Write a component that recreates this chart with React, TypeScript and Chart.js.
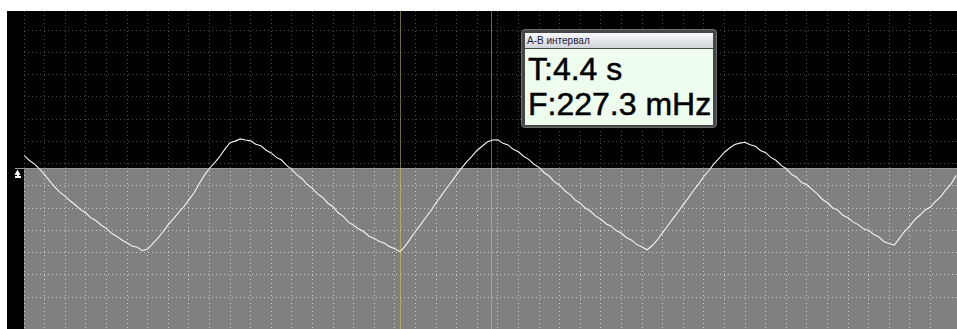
import React, { useEffect, useRef } from "react";
import { Chart, registerables } from "chart.js";

Chart.register(...registerables);

// ---- data (time in s, level in screen divisions) ----
const SAMPLE_STEP_S = 0.25;
const SIGNAL_DIV: number[] = [
  0.37, 0.15, -0.01, -0.24, -0.49, -0.79, -1.06, -1.29, -1.47, -1.68,
  -1.86, -2.07, -2.22, -2.44, -2.57, -2.77, -2.91, -3.13, -3.26, -3.43,
  -3.57, -3.70, -3.76, -3.91, -3.84, -3.60, -3.35, -3.06, -2.74, -2.48,
  -2.20, -1.95, -1.63, -1.32, -0.92, -0.53, -0.22, 0.03, 0.31, 0.65,
  0.94, 1.01, 1.11, 1.06, 1.02, 0.87, 0.80, 0.60, 0.48, 0.28,
  0.16, -0.08, -0.26, -0.51, -0.68, -0.94, -1.11, -1.36, -1.52, -1.78,
  -1.94, -2.21, -2.37, -2.63, -2.77, -2.94, -3.06, -3.26, -3.36, -3.50,
  -3.58, -3.73, -3.82, -3.96, -3.71, -3.38, -3.05, -2.75, -2.42, -2.12,
  -1.77, -1.45, -1.12, -0.82, -0.49, -0.19, 0.09, 0.34, 0.60, 0.79,
  0.98, 1.06, 1.07, 0.91, 0.84, 0.64, 0.53, 0.33, 0.19, -0.03,
  -0.17, -0.41, -0.57, -0.82, -0.97, -1.22, -1.38, -1.63, -1.78, -2.00,
  -2.14, -2.36, -2.50, -2.70, -2.81, -3.01, -3.13, -3.33, -3.44, -3.64,
  -3.75, -3.87, -3.68, -3.42, -3.10, -2.79, -2.47, -2.17, -1.84, -1.54,
  -1.21, -0.91, -0.58, -0.31, 0.00, 0.25, 0.51, 0.70, 0.86, 0.92,
  0.96, 0.85, 0.78, 0.59, 0.49, 0.28, 0.15, -0.08, -0.23, -0.48,
  -0.61, -0.85, -0.95, -1.16, -1.35, -1.60, -1.76, -1.98, -2.09, -2.32,
  -2.43, -2.63, -2.74, -2.93, -2.99, -3.19, -3.30, -3.51, -3.59, -3.66,
  -3.35, -3.04, -2.80, -2.51, -2.31, -2.08, -1.95, -1.70, -1.48, -1.18,
  -0.92, -0.53,
];

const TIME_MIN_S = 0;
const TIME_MAX_S = 45.29;
const LEVEL_MIN_DIV = -7.43;
const LEVEL_MAX_DIV = 6.855;
const TRIGGER_LEVEL_DIV = -0.25;
const CURSOR_A_S = 18.29;
const CURSOR_B_S = 22.7;

const INFO_TITLE = "A-B интервал";
const INFO_PERIOD = "T:4.4 s";
const INFO_FREQ = "F:227.3 mHz";

// ---- styles ----
const GRID_DARK = "#4a4a4a";
const GRID_LIGHT = "#cdcdcd";

function gridColor(ctx: any) {
  const chart = ctx.chart;
  const area = chart.chartArea;
  const y = chart.scales && chart.scales.y;
  if (!area || !y) return GRID_DARK;
  const trig = y.getPixelForValue(TRIGGER_LEVEL_DIV);
  const f = Math.min(1, Math.max(0, (trig - area.top) / (area.bottom - area.top)));
  const g = chart.ctx.createLinearGradient(0, area.top, 0, area.bottom);
  g.addColorStop(0, GRID_DARK);
  g.addColorStop(f, GRID_DARK);
  g.addColorStop(f, GRID_LIGHT);
  g.addColorStop(1, GRID_LIGHT);
  return g;
}

const keepIntegerTicks = (axis: any) => {
  axis.ticks = axis.ticks.filter((t: any) => Math.abs(t.value - Math.round(t.value)) < 1e-6);
};

const scopePlugin = {
  id: "scopeBackdrop",
  beforeDraw(chart: any) {
    const { ctx, chartArea, scales } = chart;
    const y = scales.y;
    ctx.save();
    ctx.fillStyle = "#000000";
    ctx.fillRect(0, 0, chart.width, chart.height);
    const ty = Math.round(y.getPixelForValue(TRIGGER_LEVEL_DIV));
    ctx.fillStyle = "#808080";
    ctx.fillRect(chartArea.left, ty, chartArea.right - chartArea.left, chartArea.bottom - ty);
    // trigger level line + marker
    ctx.fillStyle = "#9a9a9a";
    ctx.fillRect(chartArea.left - 9, ty - 1, chartArea.right - chartArea.left + 9, 1);
    ctx.fillStyle = "#ffffff";
    const mx = chartArea.left - 6.5;
    ctx.beginPath();
    ctx.moveTo(mx, ty + 0.5);
    ctx.lineTo(mx + 3, ty + 6);
    ctx.lineTo(mx - 3, ty + 6);
    ctx.closePath();
    ctx.fill();
    ctx.fillRect(Math.round(mx) - 1, ty + 3, 2, 6);
    ctx.fillRect(Math.round(mx) - 3, ty + 7, 6, 2);
    ctx.restore();
  },
  afterDatasetsDraw(chart: any) {
    const { ctx, chartArea, scales } = chart;
    const x = scales.x;
    ctx.save();
    ctx.strokeStyle = "rgba(214, 214, 70, 0.5)";
    ctx.lineWidth = 1;
    [CURSOR_A_S, CURSOR_B_S].forEach((t) => {
      const px = Math.floor(x.getPixelForValue(t)) + 0.5;
      ctx.beginPath();
      ctx.moveTo(px, chartArea.top);
      ctx.lineTo(px, chartArea.bottom);
      ctx.stroke();
    });
    ctx.restore();
  },
};

export default function App() {
  const canvasRef = useRef<HTMLCanvasElement | null>(null);

  useEffect(() => {
    const canvas = canvasRef.current;
    if (!canvas) return;
    const points = SIGNAL_DIV.map((v, i) => ({ x: i * SAMPLE_STEP_S, y: v }));
    const chart = new Chart(canvas, {
      type: "line",
      data: {
        datasets: [
          {
            label: "CH A",
            data: points,
            borderColor: "#f4f4f4",
            borderWidth: 1.1,
            pointRadius: 0,
            tension: 0,
            fill: false,
          },
        ],
      },
      options: {
        animation: false,
        responsive: false,
        devicePixelRatio: 1,
        layout: { padding: { left: 17, right: 0, top: 0, bottom: 0 } },
        plugins: { legend: { display: false }, tooltip: { enabled: false } },
        events: [],
        scales: {
          x: {
            type: "linear",
            min: TIME_MIN_S,
            max: TIME_MAX_S,
            ticks: { display: false, stepSize: 1, autoSkip: false, maxTicksLimit: 200 },
            afterBuildTicks: keepIntegerTicks,
            grid: { color: gridColor, lineWidth: 1, drawTicks: false },
            border: { display: false, dash: [1, 3] },
          },
          y: {
            type: "linear",
            min: LEVEL_MIN_DIV,
            max: LEVEL_MAX_DIV,
            ticks: { display: false, stepSize: 1, autoSkip: false, maxTicksLimit: 200 },
            afterBuildTicks: keepIntegerTicks,
            grid: { color: gridColor, lineWidth: 1, drawTicks: false },
            border: { display: false, dash: [1, 3] },
          },
        },
      } as any,
      plugins: [scopePlugin],
    });
    return () => chart.destroy();
  }, []);

  const font = '"Liberation Sans", Arial, sans-serif';

  return (
    <div>
      <div
        style={{
          position: "fixed",
          left: 7,
          top: 11,
          width: 950,
          height: 318,
          background: "#000",
          overflow: "hidden",
        }}
      >
        <canvas ref={canvasRef} width={950} height={318} style={{ display: "block" }} />
      </div>
      <div
        style={{
          position: "fixed",
          left: 521,
          top: 29,
          width: 196,
          height: 99,
          boxSizing: "border-box",
          background: "#474747",
          border: "1px solid #6e6e6e",
          borderRadius: 4,
        }}
      >
        <div
          style={{
            position: "absolute",
            left: 3,
            top: 3,
            width: 188,
            height: 15,
            background: "linear-gradient(#f7f8fa, #d2d5da)",
            color: "#18213c",
            fontFamily: font,
            fontSize: 10,
            lineHeight: "15px",
            paddingLeft: 2,
            boxSizing: "border-box",
            whiteSpace: "nowrap",
          }}
        >
          {INFO_TITLE}
        </div>
        <div
          style={{
            position: "absolute",
            left: 3,
            top: 19,
            width: 188,
            height: 76,
            background: "#effdef",
            overflow: "hidden",
            fontFamily: font,
            color: "#000",
            fontSize: 32,
            lineHeight: "32px",
            whiteSpace: "nowrap",
            WebkitTextStroke: "0.5px #000",
          }}
        >
          <div style={{ position: "absolute", left: 3, top: 4 }}>{INFO_PERIOD}</div>
          <div style={{ position: "absolute", left: 3, top: 39 }}>{INFO_FREQ}</div>
        </div>
      </div>
    </div>
  );
}
